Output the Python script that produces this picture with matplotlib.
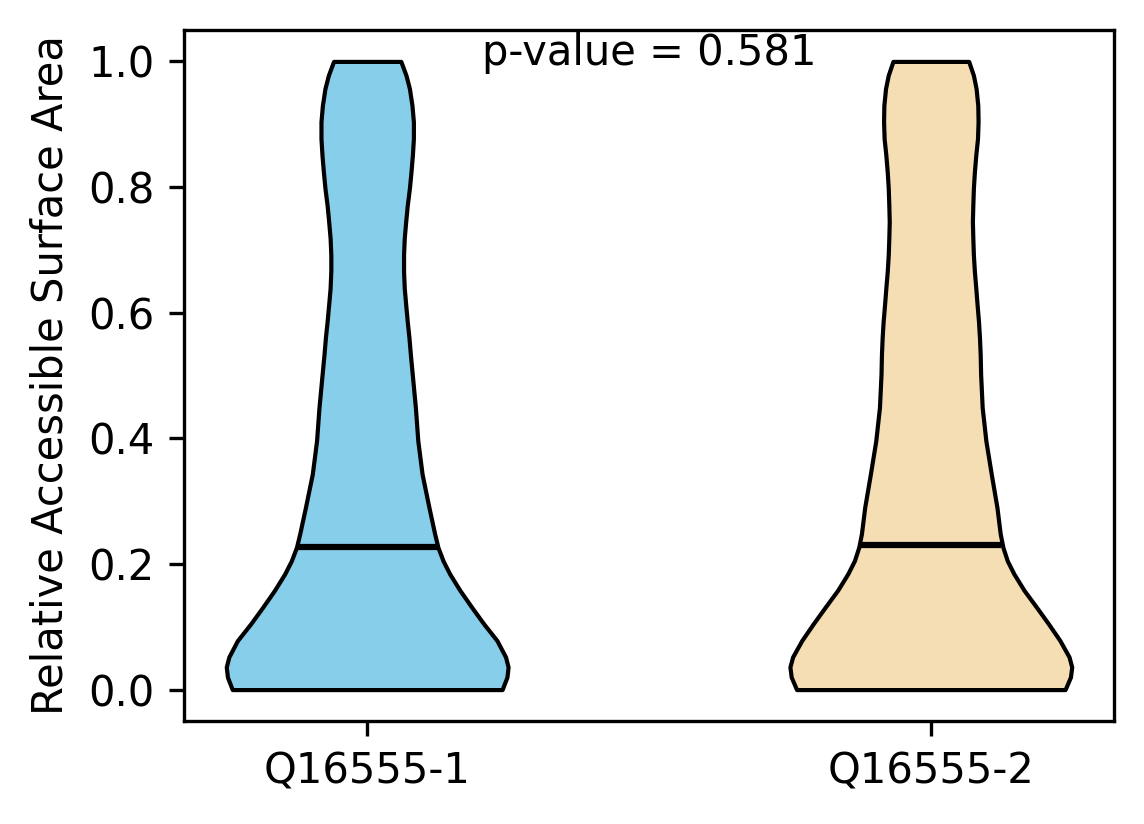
import matplotlib
matplotlib.use('Agg')
import matplotlib.pyplot as plt
import numpy as np

# groups and their summary values
labels = ['Q16555-1', 'Q16555-2']
colors = ['skyblue', 'wheat']
medians = [0.2265, 0.2307]
p_value = 0.581

# density profile (relative width), y = relative ASA
rsa_1 = [0.0, 0.020, 0.036, 0.052, 0.078, 0.105, 0.131, 0.158, 0.184, 0.205,
         0.2265, 0.248, 0.290, 0.343, 0.396, 0.449, 0.502, 0.533, 0.560,
         0.586, 0.613, 0.639, 0.666, 0.692, 0.719, 0.745, 0.771, 0.798,
         0.824, 0.851, 0.877, 0.904, 0.930, 0.957, 0.978, 1.0]
dens_1 = [0.946, 0.98, 0.988, 0.97, 0.91, 0.816, 0.733, 0.65, 0.579, 0.532,
          0.496, 0.473, 0.433, 0.385, 0.355, 0.338, 0.316, 0.303, 0.293,
          0.281, 0.27, 0.26, 0.255, 0.255, 0.26, 0.27, 0.281, 0.296,
          0.307, 0.317, 0.324, 0.324, 0.314, 0.296, 0.272, 0.236]

rsa_2 = [0.0, 0.020, 0.036, 0.052, 0.078, 0.105, 0.131, 0.158, 0.184, 0.205,
         0.2265, 0.248, 0.290, 0.343, 0.396, 0.449, 0.502, 0.533, 0.560,
         0.586, 0.613, 0.639, 0.666, 0.692, 0.719, 0.745, 0.771, 0.798,
         0.824, 0.851, 0.877, 0.904, 0.930, 0.957, 0.978, 1.0]
dens_2 = [0.946, 0.984, 0.993, 0.974, 0.91, 0.828, 0.745, 0.657, 0.586, 0.539,
          0.508, 0.489, 0.466, 0.426, 0.388, 0.362, 0.351, 0.348, 0.343,
          0.336, 0.326, 0.317, 0.307, 0.30, 0.296, 0.293, 0.296, 0.30,
          0.307, 0.317, 0.329, 0.333, 0.331, 0.319, 0.30, 0.267]

stats = []
for ys, ds, med in [(rsa_1, dens_1, medians[0]), (rsa_2, dens_2, medians[1])]:
    stats.append({'coords': np.array(ys), 'vals': np.array(ds),
                  'mean': med, 'median': med, 'min': min(ys), 'max': max(ys)})

fig = plt.figure(figsize=(1144 / 300, 824 / 300), dpi=300)
ax = fig.add_axes([184 / 1144, 103 / 824, 930 / 1144, 691 / 824])

parts = ax.violin(stats, positions=[1, 2], widths=0.5,
                  showmeans=False, showextrema=False, showmedians=True)
for body, c in zip(parts['bodies'], colors):
    body.set_facecolor(c)
    body.set_edgecolor('black')
    body.set_linewidth(1)
    body.set_alpha(1)
parts['cmedians'].set_color('black')
parts['cmedians'].set_linewidth(1.5)

ax.set_xticks([1, 2])
ax.set_xticklabels(labels)
ax.set_ylabel('Relative Accessible Surface Area')
ax.text(0.5, 0.95, f'p-value = {p_value}', transform=ax.transAxes, ha='center')

fig.savefig('out.png', dpi=300)
